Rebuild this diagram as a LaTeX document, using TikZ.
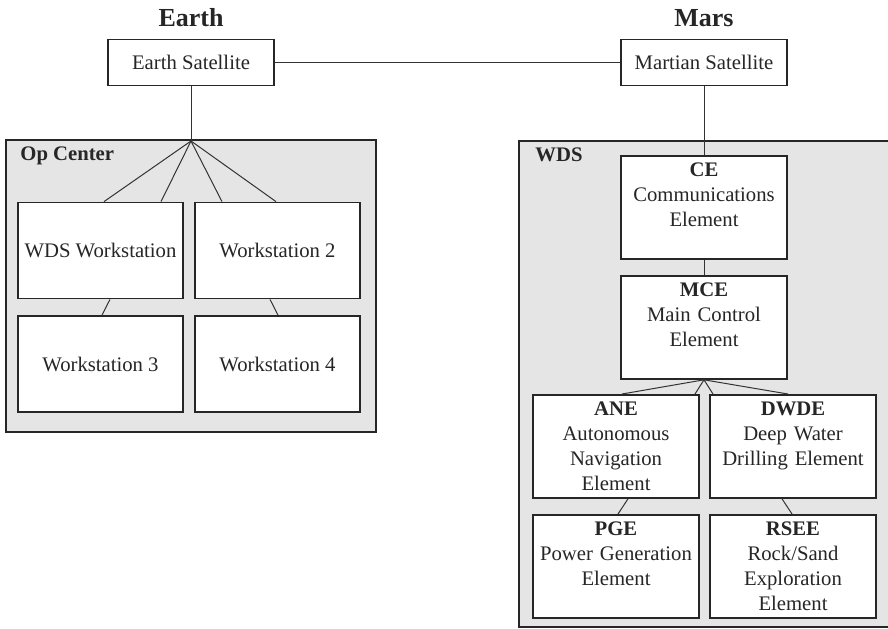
\documentclass[tikz,border=0pt]{standalone}
\usepackage{fontspec}
\setmainfont{Liberation Serif}
\begin{document}
\begin{tikzpicture}[x=0.5pt,y=-0.5pt,font=\fontsize{10.35}{12.5}\selectfont,text=black!85,
    unit/.style={draw=black!85,line width=0.9pt,fill=white,minimum width=83pt,minimum height=23pt,inner sep=2pt},
    ws/.style={unit,minimum width=82.5pt,minimum height=48pt},
    elem/.style={unit,anchor=north,text width=80pt,inner xsep=1.5pt,inner ysep=3pt,align=center,text height=7.5pt,text depth=38pt},
    group/.style={draw=black!85,line width=0.9pt,fill=gray!20},
    grouplabel/.style={anchor=base west,inner sep=0pt,font=\fontsize{10.35}{12.5}\selectfont\bfseries},
    link/.style={draw=black!80,line width=0.5pt},
    planet/.style={font=\fontsize{13}{15}\selectfont\bfseries}]
  \useasboundingbox (0,0) rectangle (888,628);
  \clip (0,0) rectangle (888,628);
  \fill[white] (0,0) rectangle (888,628);
  \draw[group] (6,140) rectangle (376,432);
  \draw[group] (519,141) rectangle (900,627);
  \node[grouplabel] (opclabel) at (20,160) {Op Center};
  \node[grouplabel] (wdslabel) at (535,161) {WDS};

  \node[planet] (earth) at (191,18) {Earth};
  \node[planet] (mars) at (704,18) {Mars};
  \node[unit] (earthsat) at (191,62.5) {Earth Satellite};
  \node[unit] (marssat) at (704,62.5) {Martian Satellite};
  \coordinate (ophub) at (191,141);

  \node[ws] (wdsws) at (100.5,250.5) {WDS Workstation};
  \node[ws] (ws2) at (277.5,250.5) {Workstation 2};
  \node[ws] (ws3) at (100.5,364) {Workstation 3};
  \node[ws] (ws4) at (277.5,364) {Workstation 4};

  \node[elem] (ce) at (704,155) {\textbf{CE}\\Communications\\Element};
  \node[elem] (mce) at (704,275) {\textbf{MCE}\\Main Control\\Element};
  \node[elem] (ane) at (616,394) {\textbf{ANE}\\Autonomous\\Navigation\\Element};
  \node[elem] (dwde) at (793,394) {\textbf{DWDE}\\Deep Water\\Drilling Element};
  \node[elem] (pge) at (616,514) {\textbf{PGE}\\Power Generation\\Element};
  \node[elem] (rsee) at (793,514) {\textbf{RSEE}\\Rock/Sand\\Exploration\\Element};

  \draw[link] (earthsat) -- (marssat);
  \draw[link] (earthsat) -- (ophub);
  \draw[link] (ophub) -- ([xshift=1.75pt]wdsws.north);
  \draw[link] (ophub) -- ([xshift=30.25pt]wdsws.north);
  \draw[link] (ophub) -- ([xshift=-27.75pt]ws2.north);
  \draw[link] (ophub) -- ([xshift=-0.75pt]ws2.north);
  \draw[link] ([xshift=4.75pt]wdsws.south) -- ([xshift=0.75pt]ws3.north);
  \draw[link] ([xshift=-3.75pt]ws2.south) -- ([xshift=0.25pt]ws4.north);

  \draw[link] (marssat) -- (ce);
  \draw[link] (ce) -- (mce);
  \draw[link] (mce.south) -- ([xshift=3pt]ane.north);
  \draw[link] (mce.south) -- ([xshift=39.5pt]ane.north);
  \draw[link] (mce.south) -- ([xshift=-40pt]dwde.north);
  \draw[link] (mce.south) -- ([xshift=-2.5pt]dwde.north);
  \draw[link] ([xshift=6pt]ane.south) -- ([xshift=1pt]pge.north);
  \draw[link] ([xshift=-5.5pt]dwde.south) -- ([xshift=-0.5pt]rsee.north);
\end{tikzpicture}
\end{document}
